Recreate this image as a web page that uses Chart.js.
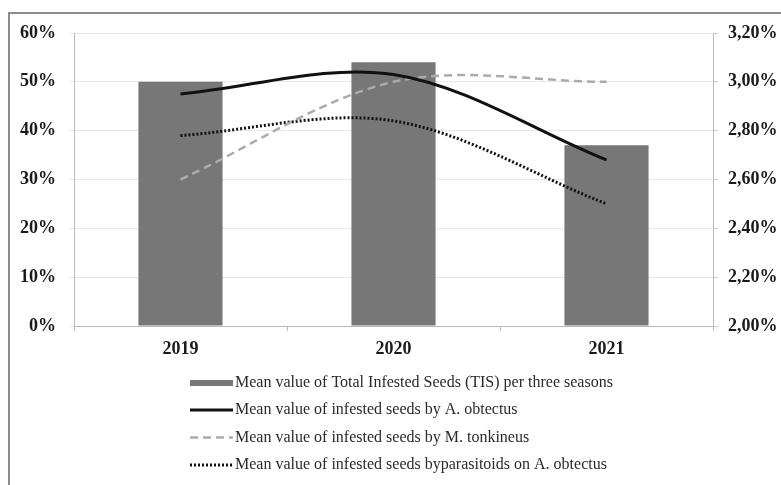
<!DOCTYPE html>
<html lang="en">
<head>
<meta charset="utf-8">
<title>Infested seeds 2019-2021</title>
<script src="https://cdn.jsdelivr.net/npm/chart.js@4.4.1/dist/chart.umd.min.js"></script>
<style>
  html, body { margin: 0; padding: 0; background: #fff; }
  #wrap { position: relative; width: 781px; height: 485px; overflow: hidden; }
  #frame { position: absolute; left: 8px; top: 12px; width: 780px; height: 480px; border: 2px solid #8c8c8c; box-sizing: border-box; }
  #chart { position: absolute; left: 0; top: 0; }
</style>
</head>
<body>
<div id="wrap">
  <div id="frame"></div>
  <canvas id="chart" width="781" height="485"></canvas>
</div>
<script>
// seasons
const years = ['2019', '2020', '2021'];
// bars, left axis (%)
const totalInfested = [50, 54, 37];
// lines, right axis (%)
const byObtectus = [2.95, 3.03, 2.68];
const byTonkineus = [2.60, 3.00, 3.00];
const byParasitoids = [2.78, 2.84, 2.50];

const labelTotal = 'Mean value of Total Infested Seeds (TIS) per three seasons';
const labelObtectus = 'Mean value of infested seeds by A. obtectus';
const labelTonkineus = 'Mean value of infested seeds by M. tonkineus';
const labelParasit = 'Mean value of infested seeds byparasitoids on A. obtectus';

const serif = '"Liberation Serif", "Times New Roman", serif';

// legend drawn on the canvas, one entry per row like the original
const rowLegend = {
  id: 'rowLegend',
  afterDraw(chart) {
    const ctx = chart.ctx;
    const x0 = 190, x1 = 233, tx = 235;
    const rows = [383, 410, 437.5, 465];
    ctx.save();
    ctx.font = '16px ' + serif;
    ctx.textBaseline = 'middle';
    chart.data.datasets.forEach((ds, i) => {
      const y = rows[i];
      if (ds.type === 'bar') {
        ctx.fillStyle = ds.backgroundColor;
        ctx.fillRect(x0, y - 3, x1 - x0, 6);
      } else {
        ctx.strokeStyle = ds.borderColor;
        ctx.lineWidth = ds.borderWidth;
        ctx.setLineDash(ds.borderDash || []);
        ctx.beginPath();
        ctx.moveTo(x0, y);
        ctx.lineTo(x1, y);
        ctx.stroke();
        ctx.setLineDash([]);
      }
      ctx.fillStyle = '#2a2a2a';
      ctx.fillText(ds.label, tx, y);
    });
    ctx.restore();
  }
};

new Chart(document.getElementById('chart'), {
  data: {
    labels: years,
    datasets: [{
      type: 'bar',
      label: labelTotal,
      data: totalInfested,
      backgroundColor: '#777777',
      yAxisID: 'y',
      categoryPercentage: 1,
      barPercentage: 0.395,
      order: 2
    }, {
      type: 'line',
      label: labelObtectus,
      data: byObtectus,
      borderColor: '#111111',
      borderWidth: 3,
      tension: 0.33,
      pointRadius: 0,
      yAxisID: 'y1',
      order: 1
    }, {
      type: 'line',
      label: labelTonkineus,
      data: byTonkineus,
      borderColor: '#ababab',
      borderWidth: 2.5,
      borderDash: [8, 5],
      tension: 0.33,
      pointRadius: 0,
      yAxisID: 'y1',
      order: 1
    }, {
      type: 'line',
      label: labelParasit,
      data: byParasitoids,
      borderColor: '#111111',
      borderWidth: 3,
      borderDash: [2, 2],
      tension: 0.33,
      pointRadius: 0,
      yAxisID: 'y1',
      order: 1
    }]
  },
  options: {
    responsive: false,
    animation: false,
    layout: { padding: { left: 0, right: 0, top: 33, bottom: 119 } },
    plugins: {
      legend: { display: false },
      tooltip: { enabled: false }
    },
    scales: {
      x: {
        afterFit(axis) { axis.height = 40; },
        grid: { drawOnChartArea: false, tickLength: 5, color: '#bbbbbb' },
        border: { color: '#bbbbbb' },
        ticks: { color: '#1a1a1a', font: { family: serif, size: 18, weight: 'bold' }, padding: 8 }
      },
      y: {
        position: 'left',
        min: 0, max: 60,
        afterFit(axis) { axis.width = 74; },
        grid: { color: '#e8e8e8', tickLength: 5 },
        border: { color: '#bbbbbb' },
        ticks: {
          stepSize: 10,
          color: '#1a1a1a',
          padding: 13,
          font: { family: serif, size: 18, weight: 'bold' },
          callback: v => v + '%'
        }
      },
      y1: {
        position: 'right',
        min: 2.0, max: 3.2,
        afterFit(axis) { axis.width = 68; },
        grid: { drawOnChartArea: false, tickLength: 5, color: '#cccccc' },
        border: { color: '#bbbbbb' },
        ticks: {
          stepSize: 0.2,
          color: '#1a1a1a',
          padding: 10,
          font: { family: serif, size: 18, weight: 'bold' },
          callback: v => v.toFixed(2).replace('.', ',') + '%'
        }
      }
    }
  },
  plugins: [rowLegend]
});
</script>
</body>
</html>
